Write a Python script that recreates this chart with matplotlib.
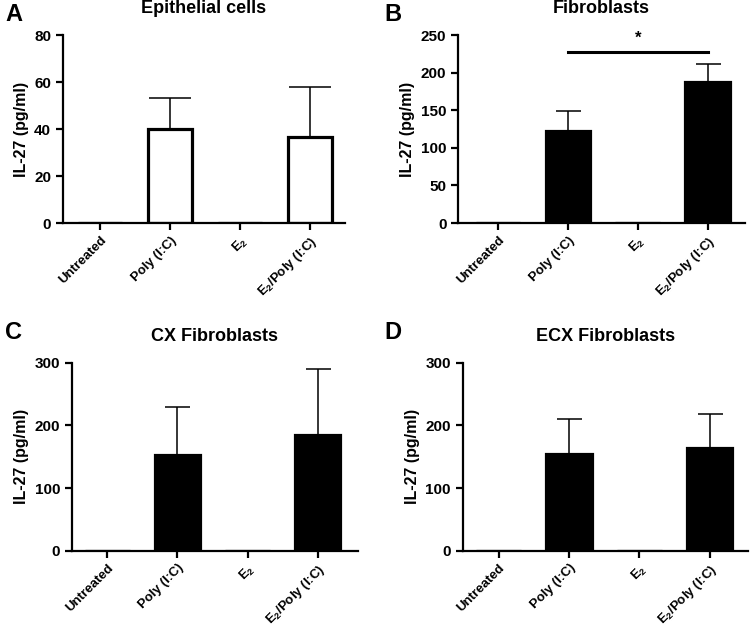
import matplotlib.pyplot as plt

plt.rcParams['font.family'] = 'Liberation Sans'
plt.rcParams['font.weight'] = 'bold'
plt.rcParams['mathtext.fontset'] = 'custom'
plt.rcParams['mathtext.rm'] = 'Liberation Sans:bold'
plt.rcParams['mathtext.it'] = 'Liberation Sans:bold'
plt.rcParams['mathtext.bf'] = 'Liberation Sans:bold'

groups = ['Untreated', 'Poly (I:C)', 'E$_2$', 'E$_2$/Poly (I:C)']

epi_mean = [0, 40, 0, 36.5]
epi_err = [0, 13.3, 0, 21.5]

fib_mean = [0, 123, 0, 188]
fib_err = [0, 26, 0, 23.5]

cx_mean = [0, 153, 0, 184.5]
cx_err = [0, 76, 0, 105.5]

ecx_mean = [0, 155, 0, 164.5]
ecx_err = [0, 55, 0, 53.5]

# letter, title, data, fill, ymax, ticks, axes rect, xlim, capsize, letter pos
panels = [
    ('A', 'Epithelial cells', epi_mean, epi_err, 'white', 80, [0, 20, 40, 60, 80],
     [0.084, 0.646, 0.376, 0.298], (-0.53, 3.5), 15, (0.007, 0.977)),
    ('B', 'Fibroblasts', fib_mean, fib_err, 'black', 250, [0, 50, 100, 150, 200, 250],
     [0.611, 0.646, 0.382, 0.298], (-0.57, 3.53), 9, (0.513, 0.977)),
    ('C', 'CX Fibroblasts', cx_mean, cx_err, 'black', 300, [0, 100, 200, 300],
     [0.096, 0.126, 0.381, 0.298], (-0.5, 3.57), 9, (0.007, 0.472)),
    ('D', 'ECX Fibroblasts', ecx_mean, ecx_err, 'black', 300, [0, 100, 200, 300],
     [0.617, 0.126, 0.38, 0.298], (-0.51, 3.54), 9, (0.513, 0.472)),
]

fig = plt.figure(figsize=(7.5, 6.3), dpi=100)

for letter, title, mean, err, color, ymax, yticks, pos, xlim, cap, lpos in panels:
    ax = fig.add_axes(pos)
    x = range(len(groups))
    ax.bar(x, mean, width=0.64, color=color, edgecolor='black', linewidth=2.3, zorder=2)
    ax.errorbar(x, mean, yerr=[[0] * 4, err], fmt='none', ecolor='black',
                elinewidth=1.1, capsize=cap, capthick=1.1, zorder=1)
    ax.set_ylim(0, ymax)
    ax.set_xlim(*xlim)
    ax.set_yticks(yticks)
    ax.set_xticks(list(x))
    ax.set_xticklabels(groups, rotation=45, ha='right', rotation_mode='anchor', fontsize=9.5)
    for lab in ax.get_yticklabels():
        lab.set_fontsize(11)
    ax.spines['top'].set_visible(False)
    ax.spines['right'].set_visible(False)
    ax.spines['left'].set_linewidth(1.6)
    ax.spines['bottom'].set_linewidth(1.6)
    ax.tick_params(axis='both', width=1.6, length=5)
    ax.tick_params(axis='x', pad=3)
    ax.set_ylabel('IL-27 (pg/ml)', fontsize=11.5, fontweight='bold')
    ax.set_title(title, fontsize=13, fontweight='bold', pad=16)
    fig.text(lpos[0], lpos[1], letter, fontsize=17, fontweight='bold', va='center')
    if letter == 'B':
        ax.plot([1, 3], [228, 228], color='black', linewidth=2.2, clip_on=False)
        ax.text(2, 236, '*', ha='center', va='bottom', fontsize=12, fontweight='bold')

fig.savefig('out.png', dpi=100)
